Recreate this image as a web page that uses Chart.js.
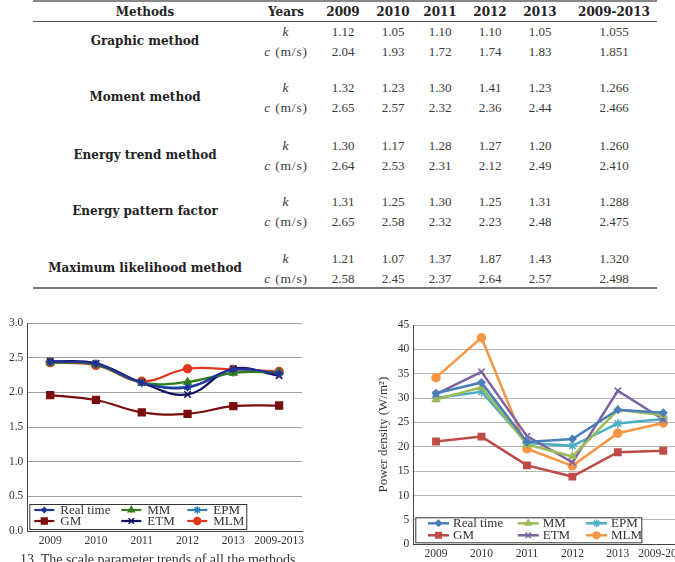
<!DOCTYPE html>
<html>
<head>
<meta charset="utf-8">
<script src="https://cdn.jsdelivr.net/npm/chart.js@4.4.1/dist/chart.umd.min.js"></script>
<style>
html, body { margin: 0; padding: 0; width: 675px; height: 562px; overflow: hidden; background: #fff; }
#page { position: relative; width: 675px; height: 562px; overflow: hidden; }
.t { position: absolute; white-space: nowrap; transform: translate(-50%, -50%); font-family: 'Liberation Serif', serif; font-size: 13px; color: #3a3a3a; }
.b { font-family: 'DejaVu Serif', serif; font-weight: bold; font-size: 12px; color: #222; }
.u { font-size: 13.5px; letter-spacing: 0.8px; }
.rule { position: absolute; left: 33px; width: 624px; background: #666; }
#leftChart { position: absolute; left: 0; top: 300px; }
#rightChart { position: absolute; left: 340px; top: 300px; }
.caption { position: absolute; left: 20px; top: 552px; font-family: 'Liberation Serif', serif; font-size: 14px; color: #333; white-space: nowrap; }
</style>
</head>
<body>
<div id="page">
  <div class="rule" style="top:0;height:2px;background:#888"></div>
  <div class="rule" style="top:21px;height:1px;background:#555"></div>
  <div class="rule" style="top:287px;height:2px;background:#777"></div>
  <div id="table"></div>
  <canvas id="leftChart" width="320" height="262"></canvas>
  <canvas id="rightChart" width="360" height="262"></canvas>
  <div class="caption">13. The scale parameter trends of all the methods</div>
</div>
<script>
// table values (Weibull k and c per method)
const tableYears = ['2009', '2010', '2011', '2012', '2013', '2009-2013'];
const methodNames = ['Graphic method', 'Moment method', 'Energy trend method', 'Energy pattern factor', 'Maximum likelihood method'];
const gmK = ['1.12', '1.05', '1.10', '1.10', '1.05', '1.055'];
const gmC = ['2.04', '1.93', '1.72', '1.74', '1.83', '1.851'];
const mmK = ['1.32', '1.23', '1.30', '1.41', '1.23', '1.266'];
const mmC = ['2.65', '2.57', '2.32', '2.36', '2.44', '2.466'];
const etmK = ['1.30', '1.17', '1.28', '1.27', '1.20', '1.260'];
const etmC = ['2.64', '2.53', '2.31', '2.12', '2.49', '2.410'];
const epfK = ['1.31', '1.25', '1.30', '1.25', '1.31', '1.288'];
const epfC = ['2.65', '2.58', '2.32', '2.23', '2.48', '2.475'];
const mlmK = ['1.21', '1.07', '1.37', '1.87', '1.43', '1.320'];
const mlmC = ['2.58', '2.45', '2.37', '2.64', '2.57', '2.498'];

// chart values
const yearLabels = ['2009', '2010', '2011', '2012', '2013', '2009-2013'];
const seriesNames = ['Real time', 'GM', 'MM', 'ETM', 'EPM', 'MLM'];
const cReal = [2.44, 2.41, 2.14, 2.07, 2.33, 2.27];
const cGM = [1.96, 1.89, 1.71, 1.69, 1.80, 1.81];
const cMM = [2.43, 2.40, 2.14, 2.15, 2.28, 2.29];
const cETM = [2.45, 2.42, 2.14, 1.97, 2.34, 2.24];
const cEPM = [2.44, 2.41, 2.14, 2.08, 2.29, 2.28];
const cMLM = [2.43, 2.39, 2.16, 2.34, 2.33, 2.30];
const pReal = [31.0, 33.2, 21.0, 21.6, 27.6, 27.0];
const pGM = [21.1, 22.1, 16.2, 13.9, 18.9, 19.2];
const pMM = [29.7, 32.2, 20.5, 18.0, 27.6, 26.5];
const pETM = [30.8, 35.4, 22.2, 16.8, 31.5, 25.6];
const pEPM = [30.0, 31.3, 20.8, 20.2, 24.8, 25.7];
const pMLM = [34.2, 42.4, 19.6, 16.1, 22.8, 24.9];

const markerStyles = ['rectRot', 'rect', 'triangle', 'crossRot', 'star', 'circle'];
const leftColors = ['#22349a', '#7b0d0d', '#2f7d1c', '#101060', '#2d7fb0', '#e0361b'];
const rightColors = ['#4a7ebb', '#be4b48', '#9bbb59', '#7f63a1', '#4bacc6', '#f79646'];
const leftRadius = [3, 4.8, 4, 4.5, 4.5, 4];
const rightRadius = [3.5, 4.5, 4, 4.5, 4.5, 4];

// build the table
function buildTable() {
    const table = document.getElementById('table');
    const colX = [343, 393, 440, 490, 540, 614];
    const groupTop = [32, 88, 146, 202, 259];
    const groups = [[gmK, gmC], [mmK, mmC], [etmK, etmC], [epfK, epfC], [mlmK, mlmC]];
    function put(html, x, y, cls) {
        const d = document.createElement('div');
        d.className = 't' + (cls ? ' ' + cls : '');
        d.style.left = x + 'px';
        d.style.top = y + 'px';
        d.innerHTML = html;
        table.appendChild(d);
    }
    put('Methods', 145, 12, 'b');
    put('Years', 286, 12, 'b');
    tableYears.forEach((y, i) => put(y, colX[i], 12, 'b'));
    groups.forEach((g, gi) => {
        const top = groupTop[gi];
        put(methodNames[gi], 145, top + 9, 'b');
        put('<i>k</i>', 286, top, 'u');
        put('<i>c</i>&nbsp;(m/s)', 286, top + 19.5, 'u');
        g[0].forEach((v, i) => put(v, colX[i], top));
        g[1].forEach((v, i) => put(v, colX[i], top + 19.5));
    });
}

// framed legend drawn inside the plot, 3 columns x 2 rows
const boxLegend = {
    id: 'boxLegend',
    afterDraw(chart, args, opts) {
        const ctx = chart.ctx;
        const area = chart.chartArea;
        const left = area.left + opts.left;
        const top = area.bottom - opts.bottom - opts.height;
        ctx.save();
        ctx.fillStyle = '#fff';
        ctx.fillRect(left, top, opts.width, opts.height);
        ctx.strokeStyle = '#333';
        ctx.lineWidth = 1;
        ctx.strokeRect(left + 0.5, top + 0.5, opts.width, opts.height);
        ctx.font = '13px "Liberation Serif", serif';
        ctx.textBaseline = 'middle';
        chart.data.datasets.forEach((ds, i) => {
            const x = left + opts.cols[Math.floor(i / 2)];
            const y = top + opts.rows[i % 2];
            ctx.strokeStyle = ds.borderColor;
            ctx.lineWidth = ds.borderWidth;
            ctx.beginPath();
            ctx.moveTo(x, y);
            ctx.lineTo(x + opts.lineLen, y);
            ctx.stroke();
            ctx.fillStyle = ds.pointBackgroundColor;
            ctx.strokeStyle = ds.pointBorderColor;
            ctx.lineWidth = ds.pointBorderWidth;
            Chart.helpers.drawPoint(ctx, {
                pointStyle: ds.pointStyle,
                radius: ds.pointRadius * 0.85,
                rotation: 0,
                borderWidth: ds.pointBorderWidth
            }, x + opts.lineLen / 2, y);
            ctx.fillStyle = '#333';
            ctx.fillText(ds.label, x + opts.textOffset, y + 0.5);
        });
        ctx.restore();
    }
};

function makeDatasets(seriesData, colors, radius, width, tension) {
    return seriesData.map((data, i) => ({
        label: seriesNames[i],
        data: data,
        borderColor: colors[i],
        backgroundColor: colors[i],
        pointBackgroundColor: colors[i],
        pointBorderColor: colors[i],
        pointStyle: markerStyles[i],
        pointRadius: radius[i],
        pointBorderWidth: 1.5,
        borderWidth: width,
        tension: tension,
        fill: false
    }));
}

const tickFont = { family: 'Liberation Serif', size: 11.5 };

function createChart(canvasId, datasets, yOpts, layout, legendOpts) {
    const ctx = document.getElementById(canvasId).getContext('2d');
    return new Chart(ctx, {
        type: 'line',
        data: { labels: yearLabels, datasets: datasets },
        plugins: [boxLegend],
        options: {
            responsive: false,
            animation: false,
            layout: { padding: layout.padding },
            plugins: {
                legend: { display: false },
                tooltip: { enabled: false },
                boxLegend: legendOpts
            },
            scales: {
                x: {
                    offset: true,
                    grid: { display: false, drawTicks: false },
                    border: { display: true, color: '#444', width: 1 },
                    ticks: { color: '#333', font: tickFont, padding: 3, maxRotation: 0, autoSkip: false },
                    afterFit(s) { s.height = layout.xHeight; }
                },
                y: Object.assign({
                    grid: { color: '#a0a0a0', drawTicks: false, lineWidth: 1 },
                    border: { display: true, color: '#444', width: 1 },
                    afterFit(s) { s.width = layout.yWidth; }
                }, yOpts)
            }
        }
    });
}

buildTable();

createChart('leftChart',
    makeDatasets([cReal, cGM, cMM, cETM, cEPM, cMLM], leftColors, leftRadius, 2.2, 0.4),
    {
        min: 0, max: 3,
        ticks: { stepSize: 0.5, padding: 4, color: '#333', font: tickFont, callback: v => v.toFixed(1) }
    },
    { padding: { left: 0, top: 23, right: 18, bottom: 0 }, xHeight: 31, yWidth: 27.3 },
    { left: 2, bottom: 2, width: 217, height: 25, rows: [6, 17], cols: [5, 92, 158], lineLen: 20, textOffset: 26 }
);

createChart('rightChart',
    makeDatasets([pReal, pGM, pMM, pETM, pEPM, pMLM], rightColors, rightRadius, 2.5, 0),
    {
        min: 0, max: 45,
        grid: { color: '#b5b5b5', drawTicks: false, lineWidth: 1 },
        ticks: { stepSize: 5, padding: 4, color: '#333', font: tickFont },
        title: { display: true, text: 'Power density (W/m²)', color: '#333', padding: 0, font: { family: 'Liberation Serif', size: 13 } }
    },
    { padding: { left: 36, top: 25, right: 14, bottom: 0 }, xHeight: 17.7, yWidth: 37.3 },
    { left: 2, bottom: 2, width: 226, height: 25, rows: [6, 18], cols: [12.7, 102.4, 170.7], lineLen: 21, textOffset: 25 }
);
</script>
</body>
</html>
